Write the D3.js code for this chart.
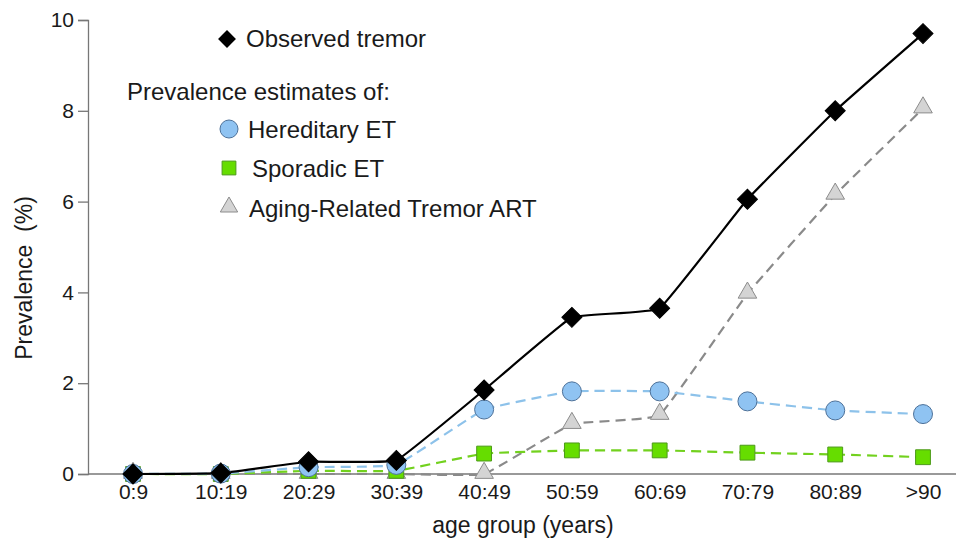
<!DOCTYPE html>
<html>
<head>
<meta charset="utf-8">
<script src="https://cdn.jsdelivr.net/npm/d3@7"></script>
<style>
  body { margin: 0; background: #fff; }
  text { font-family: Arial, "Liberation Sans", sans-serif; fill: #1a1a1a; }
</style>
</head>
<body>
<div id="chart-area"></div>
<script>
// age groups and prevalence (%)
var ageGroups   = ["0:9", "10:19", "20:29", "30:39", "40:49", "50:59", "60:69", "70:79", "80:89", ">90"];
var observed    = [0, 0.02, 0.27, 0.3, 1.85, 3.45, 3.65, 6.05, 8.0, 9.7];
var hereditary  = [0, 0.01, 0.15, 0.2, 1.42, 1.82, 1.82, 1.6, 1.4, 1.32];
var sporadic    = [0, 0, 0.07, 0.07, 0.45, 0.52, 0.52, 0.47, 0.43, 0.37];
var agingART    = [0, 0, 0, 0, 0, 1.1, 1.3, 3.97, 6.15, 8.05];
var yTicks      = [0, 2, 4, 6, 8, 10];

var svgWidth = 956, svgHeight = 549;

var svg = d3.select("#chart-area")
            .append("svg")
            .attr("width", svgWidth)
            .attr("height", svgHeight);

var x = d3.scalePoint()
          .domain(ageGroups)
          .range([133, 923]);

var y = d3.scaleLinear()
          .domain([0, 10])
          .range([474, 20]);

// y axis
var yAxisCall = d3.axisLeft(y)
                  .tickValues(yTicks)
                  .tickSize(10)
                  .tickPadding(4);

var yAxis = svg.append("g")
               .attr("transform", "translate(88,0)")
               .call(yAxisCall);
yAxis.select(".domain").attr("stroke", "#777").attr("stroke-width", 1.3);
yAxis.selectAll(".tick line").attr("stroke", "#777").attr("stroke-width", 1.3);
yAxis.selectAll(".tick text")
     .attr("font-size", "21px")
     .attr("fill", "#1a1a1a")
     .attr("font-family", "Arial, 'Liberation Sans', sans-serif");

// x axis line (no ticks)
svg.append("line")
   .attr("x1", 88).attr("x2", 956)
   .attr("y1", y(0)).attr("y2", y(0))
   .attr("stroke", "#777")
   .attr("stroke-width", 1.3);

var xAxisCall = d3.axisBottom(x).tickSize(0).tickPadding(10);
var xAxis = svg.append("g")
               .attr("transform", "translate(0," + y(0) + ")")
               .call(xAxisCall);
xAxis.select(".domain").remove();
xAxis.selectAll(".tick text")
     .attr("font-size", "21px")
     .attr("fill", "#1a1a1a")
     .attr("font-family", "Arial, 'Liberation Sans', sans-serif");

// axis labels
svg.append("text")
   .attr("transform", "translate(32, 278) rotate(-90)")
   .attr("text-anchor", "middle")
   .attr("font-size", "23px")
   .attr("xml:space", "preserve")
   .text("Prevalence  (%)");

svg.append("text")
   .attr("x", 523)
   .attr("y", 533)
   .attr("text-anchor", "middle")
   .attr("font-size", "23px")
   .text("age group (years)");

var line = d3.line()
             .x((d, i) => x(ageGroups[i]))
             .y((d) => y(d))
             .curve(d3.curveCardinal.tension(0.75));

var series = [
    { values: agingART,   stroke: "#8a8a8a", dash: "10,6" },
    { values: sporadic,   stroke: "#72d11e", dash: "10,6" },
    { values: hereditary, stroke: "#8dc2ea", dash: "10,6" },
    { values: observed,   stroke: "#000",    dash: null }
];

series.forEach((s) => {
    svg.append("path")
       .datum(s.values)
       .attr("d", line)
       .attr("fill", "none")
       .attr("stroke", s.stroke)
       .attr("stroke-width", 2.2)
       .attr("stroke-dasharray", s.dash);
});

var triangle = d3.symbol().type(d3.symbolTriangle).size(150);
var square   = d3.symbol().type(d3.symbolSquare).size(220);
var diamond  = d3.symbol().type(d3.symbolSquare).size(200);

function drawMarkers(values, shape, fill, stroke, rotate, dy) {
    svg.append("g")
       .selectAll("path")
       .data(values)
       .enter()
       .append("path")
       .attr("d", shape)
       .attr("transform", (d, i) => "translate(" + x(ageGroups[i]) + "," + (y(d) + dy) + ") rotate(" + rotate + ")")
       .attr("fill", fill)
       .attr("stroke", stroke)
       .attr("stroke-width", 1);
}

drawMarkers(agingART, triangle, "#d4d4d4", "#8c8c8c", 0, -1);
drawMarkers(sporadic, square, "#66dd00", "#4d9a1a", 0, 0);
svg.append("g")
   .selectAll("circle")
   .data(hereditary)
   .enter()
   .append("circle")
   .attr("cx", (d, i) => x(ageGroups[i]))
   .attr("cy", (d) => y(d))
   .attr("r", 9.5)
   .attr("fill", "#8fc3f2")
   .attr("stroke", "#4d7199")
   .attr("stroke-width", 1);
drawMarkers(observed, diamond, "#000", "#000", 45, 0);

// legend
var legend = svg.append("g");

legend.append("path")
      .attr("d", d3.symbol().type(d3.symbolSquare).size(160))
      .attr("transform", "translate(227,39) rotate(45)")
      .attr("fill", "#000");
legend.append("text").attr("x", 246).attr("y", 47).attr("font-size", "24px").text("Observed tremor");

legend.append("text").attr("x", 127).attr("y", 100).attr("font-size", "24px").text("Prevalence estimates of:");

legend.append("circle")
      .attr("cx", 229).attr("cy", 129).attr("r", 9)
      .attr("fill", "#8fc3f2").attr("stroke", "#4d7199");
legend.append("text").attr("x", 248).attr("y", 138).attr("font-size", "24px").text("Hereditary ET");

legend.append("path")
      .attr("d", d3.symbol().type(d3.symbolSquare).size(190))
      .attr("transform", "translate(229,168)")
      .attr("fill", "#66dd00").attr("stroke", "#4d9a1a");
legend.append("text").attr("x", 252).attr("y", 177).attr("font-size", "24px").text("Sporadic ET");

legend.append("path")
      .attr("d", d3.symbol().type(d3.symbolTriangle).size(130))
      .attr("transform", "translate(229,207)")
      .attr("fill", "#d4d4d4").attr("stroke", "#8c8c8c");
legend.append("text").attr("x", 249).attr("y", 217).attr("font-size", "24px").text("Aging-Related Tremor ART");
</script>
</body>
</html>
